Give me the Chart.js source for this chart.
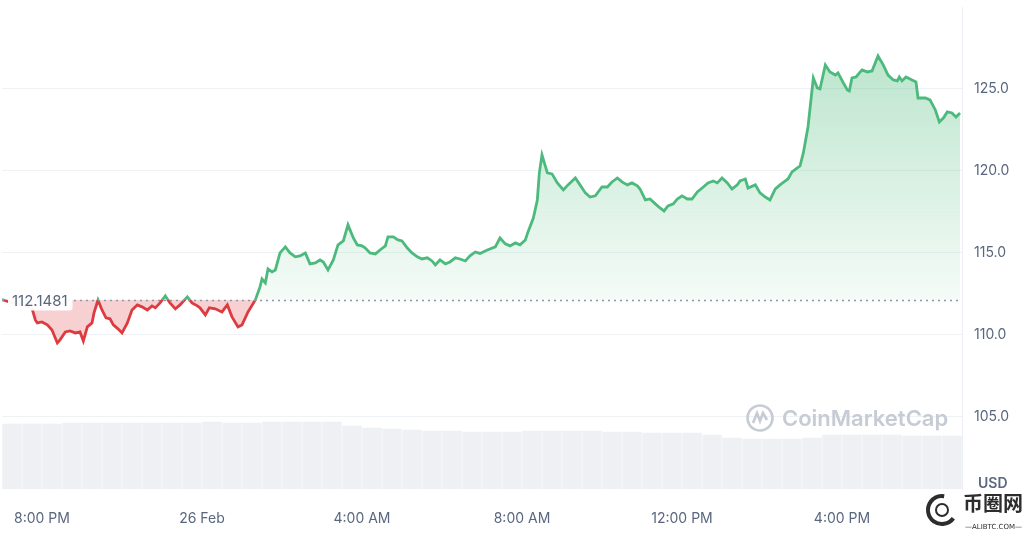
<!DOCTYPE html>
<html lang="en">
<head>
    <meta charset="UTF-8">
    <title>Price chart (24h)</title>
    <script src="https://cdn.jsdelivr.net/npm/chart.js@4.4.1/dist/chart.umd.min.js"></script>
    <style>
        html, body { margin: 0; padding: 0; background: #fff; }
        #wrap { width: 1024px; height: 535px; }
    </style>
</head>
<body>
    <div id="wrap"><canvas id="price-chart"></canvas></div>

    <script>
        // minutes since 7:00 PM (25 Feb)
        var timeMin = [0,12,23,35,45,50,53,60,68,75, 83,87,95,102,110,117,122,128,135,138,
            144,150,156,162,167,174,180,188,195,203, 210,218,225,230,237,245,252,260,267,278,
            285,293,297,305,311,320,330,338,345,354, 360,369,380,387,390,395,399,405,410,417,
            425,432,440,447,455,462,470,477,482,489, 497,504,512,519,527,533,540,545,552,560,
            567,575,579,587,594,600,608,615,623,630, 638,645,650,657,665,672,680,687,695,702,
            710,717,728,740,747,755,762,770,777,785, 789,797,803,806,810,818,825,833,842,849,
            860,867,875,882,890,900,908,915,923,930, 938,945,953,957,965,972,980,987,993,999,
            1007,1013,1020,1028,1035,1043,1052,1059,1067,1073, 1080,1088,1095,1103,1107,1115,1119,1130,1137,1145,
            1152,1160,1167,1175,1179,1185,1193,1197,1202,1209, 1217,1223,1227,1235,1242,1250,1254,1262,1268,1271,
            1275,1281,1290,1298,1305,1314,1322,1329,1337,1343, 1346,1350,1356,1365,1371,1374,1385,1392,1400,1406,
            1412,1418,1425,1431,1437];

        var price = [112.15,112.00,111.90,111.78,111.62,110.91,110.73,110.79,110.61,110.30,
            109.51,109.70,110.18,110.24,110.12,110.18,109.63,110.49,110.73,111.34,
            112.13,111.52,111.04,110.98,110.61,110.37,110.12,110.73,111.52,111.83,
            111.71,111.52,111.77,111.65,111.95,112.38,111.95,111.59,111.83,112.32,
            111.95,111.77,111.65,111.22,111.65,111.59,111.40,111.83,111.10,110.49,
            110.61,111.40,112.13,112.93,113.41,113.17,114.02,113.84,113.96,115.00,
            115.37,115.00,114.76,114.82,115.00,114.33,114.39,114.57,114.45,113.96,
            114.57,115.49,115.73,116.71,115.91,115.49,115.43,115.30,115.00,114.94,
            115.18,115.43,115.98,115.98,115.79,115.73,115.30,115.00,114.76,114.63,
            114.70,114.51,114.27,114.57,114.33,114.45,114.70,114.63,114.51,114.82,
            115.06,114.97,115.18,115.37,115.91,115.55,115.43,115.61,115.49,115.79,
            116.28,117.13,118.23,119.88,120.98,119.88,119.82,119.27,118.84,119.15,
            119.57,119.15,118.66,118.41,118.48,119.02,119.02,119.33,119.57,119.33,
            119.15,119.27,119.09,118.90,118.23,118.29,117.99,117.74,117.56,117.87,
            117.99,118.29,118.48,118.29,118.29,118.72,119.02,119.27,119.39,119.27,
            119.57,119.27,118.90,119.15,119.39,119.51,118.96,119.15,118.66,118.41,
            118.23,118.90,119.15,119.39,119.51,119.94,120.18,120.30,121.10,122.68,
            125.67,125.06,125.00,126.46,126.04,125.85,125.98,125.37,124.94,124.88,
            125.67,125.73,126.16,126.04,126.10,127.01,126.46,125.85,125.55,125.49,
            125.73,125.49,125.73,125.55,125.43,124.45,124.45,124.33,123.72,122.99,
            123.23,123.60,123.54,123.29,123.54];

        var openPrice = 112.1481;

        // 30 minute volume buckets (relative units)
        var volume = [32.5,32.5,32.5,33,33,33,33,33,33,33,
            33.5,33,33,33.5,33.5,33.5,33.5,31.5,30.5,30,
            29.5,29,29,28.5,28.5,28.5,29,29,29,29,
            28.5,28.5,28,28,28,27,25.5,25,25,25,
            25.5,27,27,27,27,26.5,26.5,26.5];

        var tickMin = [60, 300, 540, 780, 1020, 1260];
        var tickLabels = ['8:00 PM', '26 Feb', '4:00 AM', '8:00 AM', '12:00 PM', '4:00 PM'];
        var yTicks = [105, 110, 115, 120, 125];

        var GREEN = '#4cb97d';
        var RED = '#dc3b40';
        var GREY = '#58667e';

        function baseFraction(chart) {
            var area = chart.chartArea;
            var py = chart.scales.y.getPixelForValue(openPrice);
            return Math.min(1, Math.max(0, (py - area.top) / (area.bottom - area.top)));
        }

        function lineColor(context) {
            var chart = context.chart;
            if (!chart.chartArea) return GREEN;
            var a = chart.chartArea, f = baseFraction(chart);
            var g = chart.ctx.createLinearGradient(0, a.top, 0, a.bottom);
            g.addColorStop(0, GREEN);
            g.addColorStop(f, GREEN);
            g.addColorStop(f, RED);
            g.addColorStop(1, RED);
            return g;
        }

        function fillColor(context) {
            var chart = context.chart;
            if (!chart.chartArea) return 'rgba(60,180,110,0.15)';
            var a = chart.chartArea, f = baseFraction(chart);
            var g = chart.ctx.createLinearGradient(0, a.top, 0, a.bottom);
            g.addColorStop(0, 'rgba(60,180,110,0.4)');
            g.addColorStop(f, 'rgba(60,180,110,0.05)');
            g.addColorStop(f, 'rgba(225,60,65,0.24)');
            g.addColorStop(1, 'rgba(225,60,65,0.24)');
            return g;
        }

        function roundRect(c, x, y, w, h, r) {
            c.beginPath();
            c.moveTo(x + r, y);
            c.arcTo(x + w, y, x + w, y + h, r);
            c.arcTo(x + w, y + h, x, y + h, r);
            c.arcTo(x, y + h, x, y, r);
            c.arcTo(x, y, x + w, y, r);
            c.closePath();
        }

        var extras = {
            id: 'extras',
            afterDatasetsDraw: function (chart) {
                var c = chart.ctx, area = chart.chartArea;
                var by = Math.round(chart.scales.y.getPixelForValue(openPrice)) + 0.5;
                c.save();

                // dotted open price line
                c.strokeStyle = '#8e98a8';
                c.lineWidth = 1.3;
                c.setLineDash([2, 4]);
                c.beginPath();
                c.moveTo(area.left, by);
                c.lineTo(area.right, by);
                c.stroke();
                c.setLineDash([]);

                // open price label
                c.font = '15px Inter';
                var txt = String(openPrice);
                var w = c.measureText(txt).width;
                c.fillStyle = 'rgba(255,255,255,0.96)';
                roundRect(c, area.left + 6, by - 10, w + 9, 20, 3);
                c.fill();
                c.fillStyle = GREY;
                c.textBaseline = 'middle';
                c.fillText(txt, area.left + 10, by + 1);

                // CoinMarketCap watermark
                var cx = 760, cy = 418;
                c.strokeStyle = '#c6cbd4';
                c.lineWidth = 2.6;
                c.beginPath();
                c.arc(cx, cy, 12.5, -0.15 * Math.PI, 1.85 * Math.PI);
                c.stroke();
                c.beginPath();
                c.moveTo(cx - 7, cy + 5);
                c.lineTo(cx - 3, cy - 5);
                c.lineTo(cx, cy + 3);
                c.lineTo(cx + 3, cy - 5);
                c.lineTo(cx + 7, cy + 2);
                c.stroke();
                c.fillStyle = '#c6cbd4';
                c.font = '600 22px Inter';
                c.fillText('CoinMarketCap', 782, cy + 1);

                // currency
                c.fillStyle = GREY;
                c.font = '600 14px Inter';
                c.fillText('USD', 978, 484);

                // site watermark
                c.fillStyle = '#2d2d2d';
                c.font = 'bold 20px "Noto Sans CJK SC"';
                c.fillText('币圈网', 963, 503);
                c.font = '7px "DejaVu Sans"';
                c.fillText('—ALIBTC.COM—', 965, 527);
                c.strokeStyle = '#2d2d2d';
                c.lineWidth = 4;
                c.beginPath();
                c.arc(942, 510, 14, 0.2 * Math.PI, 1.55 * Math.PI);
                c.stroke();
                c.lineWidth = 2;
                c.beginPath();
                c.arc(942, 510, 6, 0, 2 * Math.PI);
                c.stroke();
                c.restore();
            }
        };

        var ctx = document.getElementById('price-chart').getContext('2d');
        var chart = new Chart(ctx, {
            type: 'line',
            data: {
                datasets: [{
                    type: 'line',
                    data: timeMin.map(function (t, i) { return { x: t, y: price[i] }; }),
                    borderColor: lineColor,
                    backgroundColor: fillColor,
                    borderWidth: 2.8,
                    pointRadius: 0,
                    tension: 0,
                    fill: { target: { value: openPrice } },
                    yAxisID: 'y',
                    order: 0
                }, {
                    type: 'bar',
                    data: volume.map(function (v, i) { return { x: 15 + i * 30, y: v }; }),
                    backgroundColor: '#eef0f3',
                    borderWidth: 0,
                    barPercentage: 0.97,
                    categoryPercentage: 1,
                    yAxisID: 'yVol',
                    order: 1
                }]
            },
            options: {
                responsive: true,
                maintainAspectRatio: false,
                animation: false,
                layout: { padding: { left: 2, top: 7, right: 0, bottom: 0 } },
                plugins: { legend: { display: false }, tooltip: { enabled: false } },
                scales: {
                    x: {
                        type: 'linear',
                        min: 0,
                        max: 1440,
                        offset: false,
                        grid: { display: false, offset: false },
                        border: { display: false },
                        afterBuildTicks: function (scale) {
                            scale.ticks = tickMin.map(function (v) { return { value: v }; });
                        },
                        afterFit: function (scale) {
                            scale.height = 46;
                            scale.paddingLeft = 0;
                            scale.paddingRight = 0;
                        },
                        ticks: {
                            autoSkip: false,
                            maxRotation: 0,
                            padding: 13,
                            color: GREY,
                            font: { family: 'Inter', size: 14 },
                            callback: function (v) {
                                var i = tickMin.indexOf(v);
                                return i >= 0 ? tickLabels[i] : '';
                            }
                        }
                    },
                    y: {
                        position: 'right',
                        min: 100.6,
                        max: 130,
                        grid: { color: '#eff2f5', drawTicks: false },
                        border: { display: true, color: '#eceff3' },
                        afterBuildTicks: function (scale) {
                            scale.ticks = yTicks.map(function (v) { return { value: v }; });
                        },
                        afterFit: function (scale) {
                            scale.width = 62;
                            scale.paddingTop = 0;
                            scale.paddingBottom = 0;
                        },
                        ticks: {
                            padding: 12,
                            color: GREY,
                            font: { family: 'Inter', size: 14 },
                            callback: function (v) { return Number(v).toFixed(1); }
                        }
                    },
                    yVol: {
                        display: false,
                        min: 0,
                        max: 240
                    }
                }
            },
            plugins: [extras]
        });
    </script>
</body>
</html>
